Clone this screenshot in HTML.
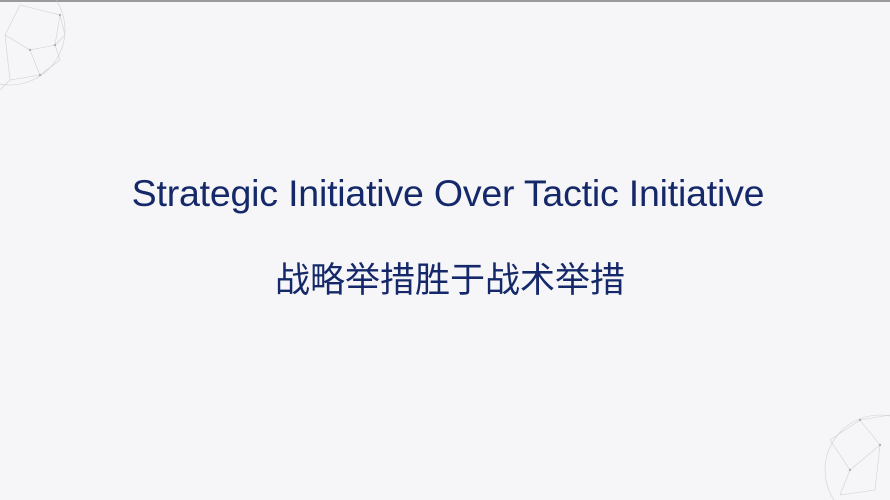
<!DOCTYPE html>
<html><head><meta charset="utf-8"><style>
html,body{margin:0;padding:0}
body{width:890px;height:500px;background:#f6f6f8;position:relative;overflow:hidden;font-family:"Liberation Sans","Noto Sans CJK SC",sans-serif}
.t{position:absolute;left:0;width:890px;text-align:center;color:#15296a;white-space:nowrap}
#en{top:172px;font-size:37.5px;letter-spacing:-0.2px;left:3px}
#zh{top:252px;font-size:35px;left:5px}
#bar{position:absolute;left:0;top:0;width:890px;height:2px;background:#9a9a9a}
</style></head><body>
<div id="bar"></div>
<svg width="890" height="500" style="position:absolute;left:0;top:0">
<g stroke="#c8c8cc" stroke-width="0.6" fill="none" opacity="0.8">
<circle cx="10" cy="30" r="55"/>
<path d="M20 5 L60 15 L55 45 L30 50 L5 35 L20 5 M60 15 L65 35 L55 45 M30 50 L40 75 L10 80 L5 35 M40 75 L60 60 L55 45 M10 80 L0 90"/>
<circle cx="880" cy="470" r="55"/>
<path d="M830 440 L860 420 L880 445 L850 470 L830 440 M860 420 L890 415 M850 470 L840 495 L875 490 L880 445"/>
</g>
<g fill="#b0b0b5"><circle cx="60" cy="15" r="1.2"/><circle cx="55" cy="45" r="1.2"/><circle cx="30" cy="50" r="1.2"/><circle cx="40" cy="75" r="1.2"/><circle cx="860" cy="420" r="1.2"/><circle cx="850" cy="470" r="1.2"/><circle cx="880" cy="445" r="1.2"/></g>
</svg>
<div class="t" id="en">Strategic Initiative Over Tactic Initiative</div>
<div class="t" id="zh">战略举措胜于战术举措</div>
</body></html>
